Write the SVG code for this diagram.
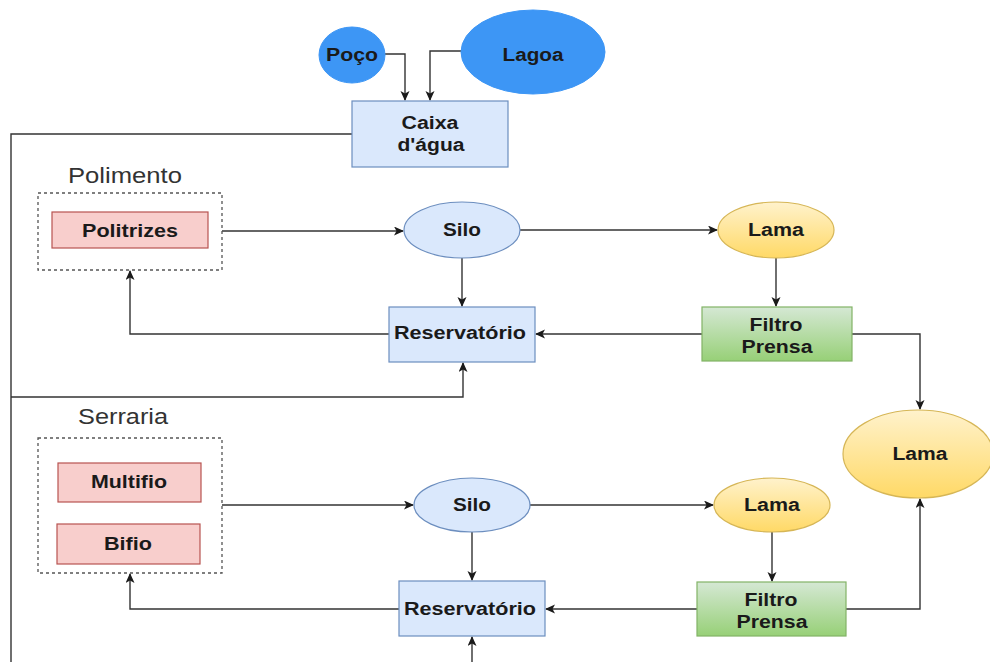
<svg xmlns="http://www.w3.org/2000/svg" width="990" height="662" viewBox="0 0 990 662">
<defs>
<linearGradient id="gY" x1="0" y1="0" x2="0" y2="1"><stop offset="0" stop-color="#fff2cc"/><stop offset="1" stop-color="#ffd966"/></linearGradient>
<linearGradient id="gG" x1="0" y1="0" x2="0" y2="1"><stop offset="0" stop-color="#d5e8d4"/><stop offset="1" stop-color="#97d077"/></linearGradient>
<marker id="ah" markerUnits="userSpaceOnUse" markerWidth="12" markerHeight="10" refX="9" refY="4.5" orient="auto"><path d="M0,0 L10,4.5 L0,9 L2.5,4.5 Z" fill="#1a1a1a"/></marker>
<style>
.ln{fill:none;stroke:#333;stroke-width:1.4}
.ar{marker-end:url(#ah)}
.blue{fill:#3d96f5;stroke:#3d96f5}
.lb{fill:#dae8fc;stroke:#6c8ebf;stroke-width:1.2}
.yl{fill:url(#gY);stroke:#d6b656;stroke-width:1.2}
.gr{fill:url(#gG);stroke:#82b366;stroke-width:1.2}
.rd{fill:#f8cecc;stroke:#b85450;stroke-width:1.2}
.dash{fill:none;stroke:#555;stroke-width:1.3;stroke-dasharray:3 3}
.t{font-family:"Liberation Sans",Arial,sans-serif;font-weight:bold;font-size:18px;fill:#1a1a1a;text-anchor:middle}
.h{font-family:"Liberation Sans",Arial,sans-serif;font-size:22px;fill:#333;text-anchor:middle}
</style>
</defs>
<g id="connectors">
<path class="ln ar" d="M385,54 H405 V100"/>
<path class="ln ar" d="M462,51 H430 V100"/>
<path class="ln" d="M352,134 H11 V662"/>
<path class="ln ar" d="M11,397 H463 V363"/>
<path class="ln ar" d="M222,231 H403"/>
<path class="ln ar" d="M520,230 H717"/>
<path class="ln ar" d="M462,258 V306"/>
<path class="ln ar" d="M776,258 V306"/>
<path class="ln ar" d="M702,334 H536"/>
<path class="ln ar" d="M389,334 H130 V271"/>
<path class="ln ar" d="M852,334 H920 V409"/>
<path class="ln ar" d="M222,505 H413"/>
<path class="ln ar" d="M530,505 H713"/>
<path class="ln ar" d="M472,532 V580"/>
<path class="ln ar" d="M772,532 V581"/>
<path class="ln ar" d="M697,609 H546"/>
<path class="ln ar" d="M399,609 H130 V574"/>
<path class="ln ar" d="M846,609 H920 V499"/>
<path class="ln ar" d="M472,662 V637"/>
</g>
<g id="poco"><ellipse class="blue" cx="352" cy="55" rx="33" ry="28"/><text class="t" x="352" y="61" textLength="52" lengthAdjust="spacingAndGlyphs">Poço</text></g>
<g id="lagoa"><ellipse class="blue" cx="533" cy="52" rx="72" ry="42"/><text class="t" x="533" y="61" textLength="61" lengthAdjust="spacingAndGlyphs">Lagoa</text></g>
<g id="caixa"><rect class="lb" x="352" y="101" width="156" height="66"/><text class="t" x="430" y="129" textLength="57" lengthAdjust="spacingAndGlyphs">Caixa</text><text class="t" x="431" y="151" textLength="67" lengthAdjust="spacingAndGlyphs">d'água</text></g>
<g id="polimento"><text class="h" x="125" y="183" textLength="114" lengthAdjust="spacingAndGlyphs">Polimento</text><rect class="dash" x="38" y="193" width="184" height="77"/></g>
<g id="politrizes"><rect class="rd" x="52" y="212" width="156" height="36"/><text class="t" x="130" y="237" textLength="96" lengthAdjust="spacingAndGlyphs">Politrizes</text></g>
<g id="silo1"><ellipse class="lb" cx="462" cy="230" rx="58" ry="28"/><text class="t" x="462" y="236" textLength="38" lengthAdjust="spacingAndGlyphs">Silo</text></g>
<g id="lama1"><ellipse class="yl" cx="776" cy="230" rx="58" ry="28"/><text class="t" x="776" y="236" textLength="56" lengthAdjust="spacingAndGlyphs">Lama</text></g>
<g id="reservatorio1"><rect class="lb" x="389" y="307" width="146" height="55"/><text class="t" x="460" y="339" textLength="132" lengthAdjust="spacingAndGlyphs">Reservatório</text></g>
<g id="filtro1"><rect class="gr" x="702" y="307" width="150" height="54"/><text class="t" x="776" y="331" textLength="53" lengthAdjust="spacingAndGlyphs">Filtro</text><text class="t" x="777" y="353" textLength="71" lengthAdjust="spacingAndGlyphs">Prensa</text></g>
<g id="lama-big"><ellipse class="yl" cx="918" cy="454" rx="75" ry="44"/><text class="t" x="920" y="460" textLength="55" lengthAdjust="spacingAndGlyphs">Lama</text></g>
<g id="serraria"><text class="h" x="123" y="424" textLength="90" lengthAdjust="spacingAndGlyphs">Serraria</text><rect class="dash" x="38" y="438" width="184" height="135"/></g>
<g id="multifio"><rect class="rd" x="58" y="463" width="143" height="39"/><text class="t" x="129" y="488" textLength="76" lengthAdjust="spacingAndGlyphs">Multifio</text></g>
<g id="bifio"><rect class="rd" x="57" y="524" width="143" height="40"/><text class="t" x="128" y="550" textLength="48" lengthAdjust="spacingAndGlyphs">Bifio</text></g>
<g id="silo2"><ellipse class="lb" cx="472" cy="505" rx="58" ry="27"/><text class="t" x="472" y="511" textLength="38" lengthAdjust="spacingAndGlyphs">Silo</text></g>
<g id="lama2"><ellipse class="yl" cx="772" cy="505" rx="58" ry="27"/><text class="t" x="772" y="511" textLength="56" lengthAdjust="spacingAndGlyphs">Lama</text></g>
<g id="reservatorio2"><rect class="lb" x="399" y="581" width="146" height="55"/><text class="t" x="470" y="615" textLength="132" lengthAdjust="spacingAndGlyphs">Reservatório</text></g>
<g id="filtro2"><rect class="gr" x="697" y="582" width="149" height="54"/><text class="t" x="771" y="606" textLength="53" lengthAdjust="spacingAndGlyphs">Filtro</text><text class="t" x="772" y="628" textLength="71" lengthAdjust="spacingAndGlyphs">Prensa</text></g>
</svg>
